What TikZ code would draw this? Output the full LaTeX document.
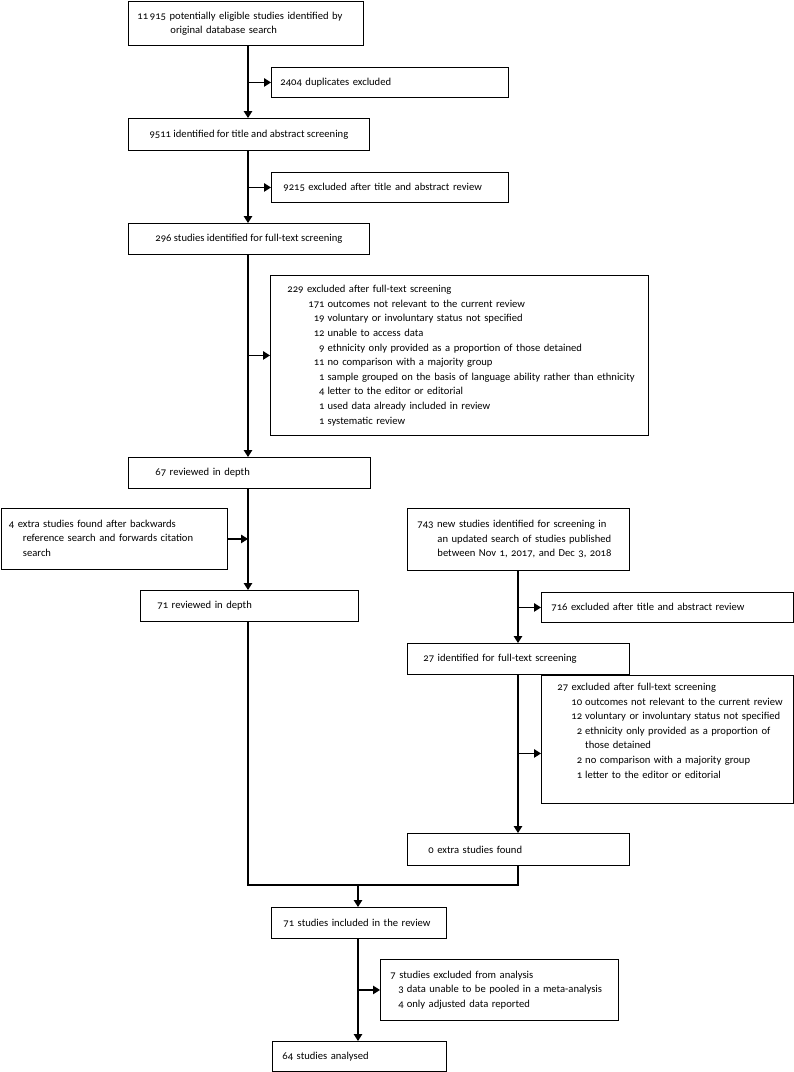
\documentclass[tikz,border=0pt]{standalone}
\usepackage{fontspec}
\setmainfont{Carlito}[Numbers=OldStyle]
\usetikzlibrary{arrows.meta}
\begin{document}
\begin{tikzpicture}[x=1pt,y=-1pt,
  font=\fontsize{10.6}{14.6}\selectfont,
  box/.style={draw, line width=0.9pt, inner ysep=0pt, anchor=north west},
  lbox/.style n args={4}{box, align=left, minimum width=#1pt, minimum height=#2pt, inner xsep=#3pt, text width=#4pt},
  cbox/.style n args={2}{box, align=center, minimum width=#1pt, minimum height=#2pt},
  conn/.style={line width=1.2pt},
  arr/.style={conn, -{Triangle[length=7pt,width=8.5pt]}},
]
\useasboundingbox (0,0) rectangle (794,1072);

% left spine
\node[lbox={235}{44}{9}{217}] (b1) at (128,1)
  {\begin{tabular}{@{}l@{}}11\,915 potentially eligible studies identified by\\\hspace*{33pt}original database search\end{tabular}};
\node[lbox={237}{30}{9}{219}] (e1) at (271,67) {\mbox{2404 duplicates excluded}};
\node[cbox={241}{32}] (b2) at (128,118) {\mbox{9511 identified for title and abstract screening}};
\node[lbox={237}{30}{12}{213}] (e2) at (271,172) {\mbox{9215 excluded after title and abstract review}};
\node[cbox={241}{31}] (b3) at (128,223) {\mbox{296 studies identified for full-text screening}};
\node[lbox={378}{160}{17}{344}] (e3) at (270,275) {%
\begin{tabular}{@{}p{21pt}@{}r@{\hspace{3pt}}l@{}}
\multicolumn{3}{@{}l@{}}{229 excluded after full-text screening}\\
&171&outcomes not relevant to the current review\\
&19&voluntary or involuntary status not specified\\
&12&unable to access data\\
&9&ethnicity only provided as a proportion of those detained\\
&11&no comparison with a majority group\\
&1&sample grouped on the basis of language ability rather than ethnicity\\
&4&letter to the editor or editorial\\
&1&used data already included in review\\
&1&systematic review
\end{tabular}};
\node[lbox={242}{31}{27}{188}] (b4) at (128,457) {\mbox{67 reviewed in depth}};
\node[lbox={226.5}{61}{8}{210.5}] (x1) at (0.5,508)
  {\begin{tabular}{@{}l@{}}4 extra studies found after backwards\\\hspace*{14pt}reference search and forwards citation\\\hspace*{14pt}search\end{tabular}};
\node[lbox={218}{31}{17}{184}] (b5) at (140,590) {\mbox{71 reviewed in depth}};

% right column
\node[lbox={222}{62}{10}{202}] (r1) at (407,508)
  {\begin{tabular}{@{}l@{}}743 new studies identified for screening in\\\hspace*{20pt}an updated search of studies published\\\hspace*{20pt}between Nov 1, 2017, and Dec 3, 2018\end{tabular}};
\node[lbox={252}{30}{10}{232}] (r2) at (541,592) {\mbox{716 excluded after title and abstract review}};
\node[lbox={222}{31}{16}{190}] (r3) at (407,643) {\mbox{27 identified for full-text screening}};
\node[lbox={252}{128}{16}{220}] (r4) at (541,675) {%
\begin{tabular}{@{}p{14pt}@{}r@{\hspace{3pt}}l@{}}
\multicolumn{3}{@{}l@{}}{27 excluded after full-text screening}\\
&10&outcomes not relevant to the current review\\
&12&voluntary or involuntary status not specified\\
&2&ethnicity only provided as a proportion of\\
&&those detained\\
&2&no comparison with a majority group\\
&1&letter to the editor or editorial\\[16pt]
\end{tabular}};
\node[lbox={222}{32}{21}{180}] (r5) at (407,833) {\mbox{0 extra studies found}};

% bottom
\node[lbox={175}{31}{12}{151}] (f1) at (271,907) {\mbox{71 studies included in the review}};
\node[lbox={238}{61}{10}{218}] (e4) at (380,959) {%
\begin{tabular}{@{}p{8pt}@{}r@{\hspace{3pt}}l@{}}
\multicolumn{3}{@{}l@{}}{7 studies excluded from analysis}\\
&3&data unable to be pooled in a meta-analysis\\
&4&only adjusted data reported
\end{tabular}};
\node[lbox={174}{30}{10}{154}] (f2) at (272,1041) {\mbox{64 studies analysed}};

% connectors
\coordinate (sx) at (248,0);
\coordinate (rx) at (518,0);
\coordinate (fx) at (358,0);
\coordinate (jy) at (0,885);
\coordinate (r4in) at ([yshift=-14pt]r4.west);

\draw[arr] (sx |- b1.south) -- (sx |- b2.north);
\draw[arr] (sx |- e1.west) -- (e1.west);
\draw[arr] (sx |- b2.south) -- (sx |- b3.north);
\draw[arr] (sx |- e2.west) -- (e2.west);
\draw[arr] (sx |- b3.south) -- (sx |- b4.north);
\draw[arr] (sx |- e3.west) -- (e3.west);
\draw[arr] (sx |- b4.south) -- (sx |- b5.north);
\draw[arr] (x1.east) -- (sx |- x1.east);
\draw[conn] (sx |- b5.south) -- (sx |- jy) -- (rx |- jy) -- (rx |- r5.south);

\draw[arr] (rx |- r1.south) -- (rx |- r3.north);
\draw[arr] (rx |- r2.west) -- (r2.west);
\draw[arr] (rx |- r3.south) -- (rx |- r5.north);
\draw[arr] (rx |- r4in) -- (r4in);

\draw[arr] (fx |- jy) -- (fx |- f1.north);
\draw[arr] (fx |- f1.south) -- (fx |- f2.north);
\draw[arr] (fx |- e4.west) -- (e4.west);
\end{tikzpicture}
\end{document}
